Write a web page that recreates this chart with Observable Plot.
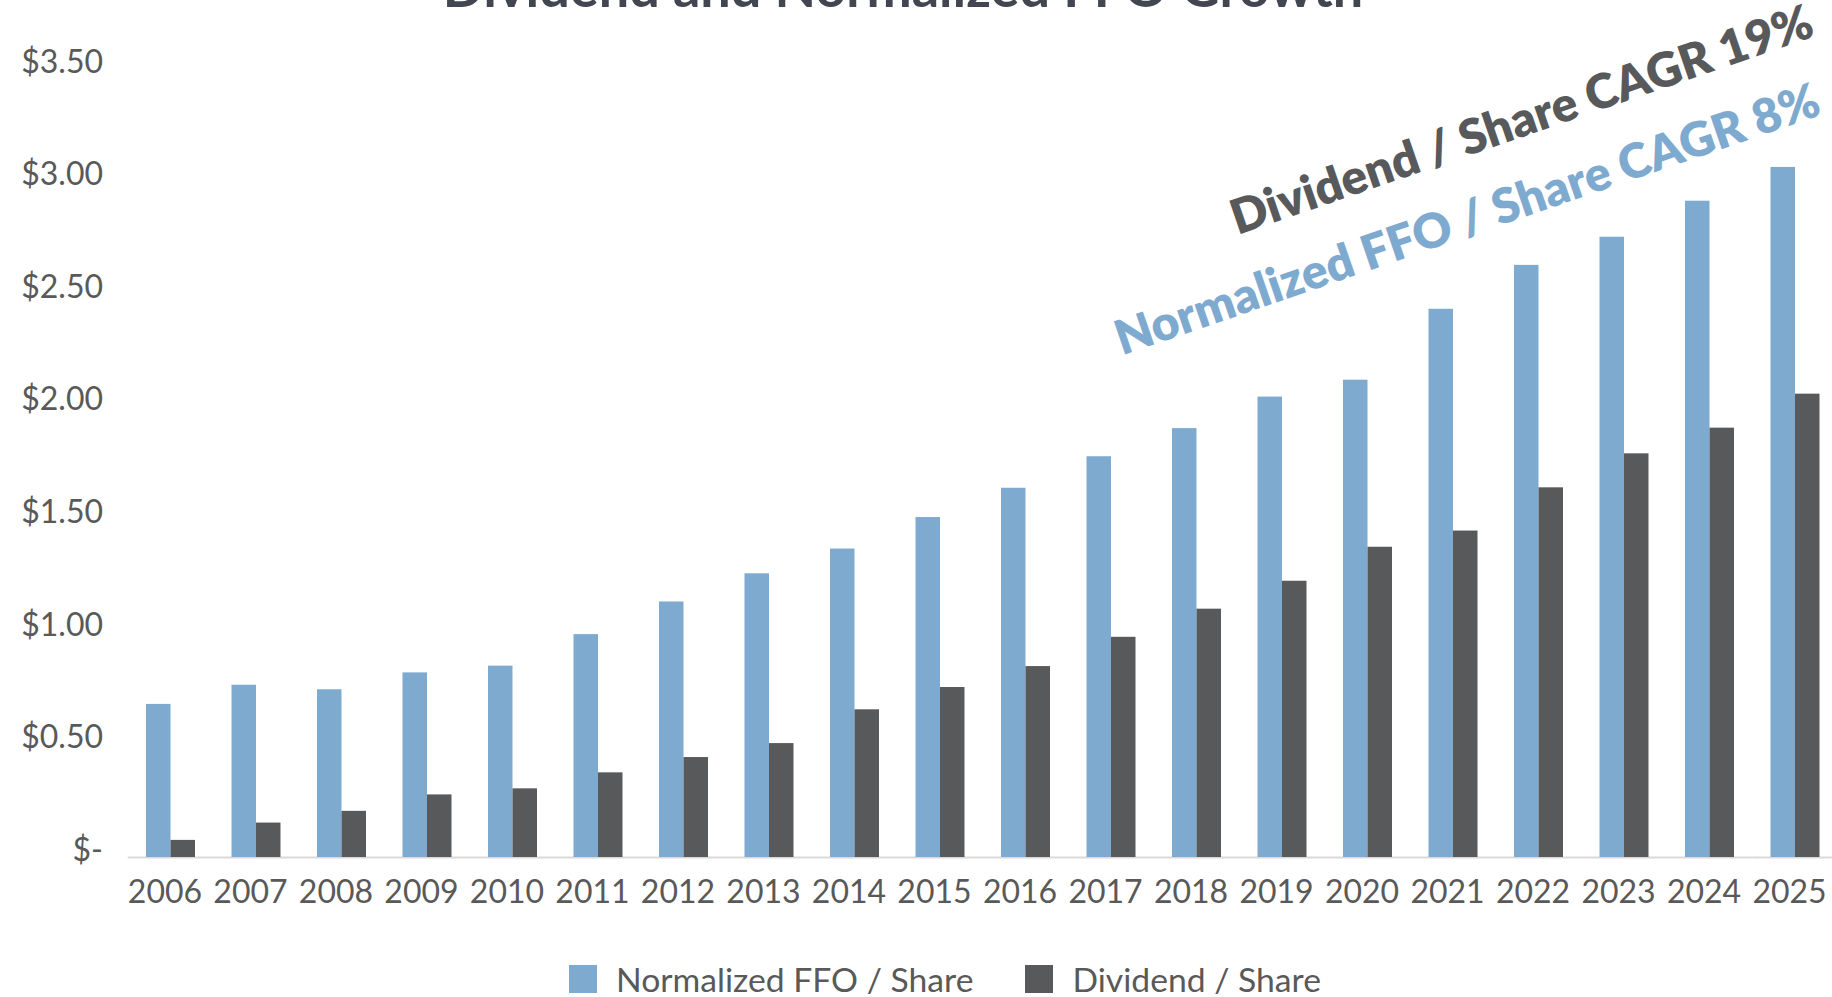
<!DOCTYPE html>
<html>
<head>
<meta charset="utf-8">
<script src="https://cdn.jsdelivr.net/npm/d3@7"></script>
<script src="https://cdn.jsdelivr.net/npm/@observablehq/plot@0.6"></script>
<style>
  html, body { margin: 0; padding: 0; background: #ffffff; overflow: hidden; }
  body { width: 1832px; height: 997px; position: relative; font-family: Lato, "Open Sans", sans-serif; }
  #title { position: absolute; top: -40px; left: 0; width: 1806px; text-align: center;
           font-size: 54px; line-height: 54px; font-weight: 700; color: #414651; z-index: 2; white-space: nowrap; }
  #chart { position: absolute; top: 0; left: 0; }
  #legend { position: absolute; top: 945px; left: 0; width: 1832px; height: 52px; box-sizing: border-box;
            padding-top: 16px; padding-left: 569px; display: flex; align-items: center; }
  .item { display: flex; align-items: center; height: 40px; font-size: 33.7px; color: #595959; }
  .sw { width: 28px; height: 28px; margin-right: 19px; }
</style>
</head>
<body>
<div id="title">Dividend and Normalized FFO Growth</div>
<div id="chart"></div>
<div id="legend"></div>
<script>
// ---- data ----
const years = ["2006","2007","2008","2009","2010","2011","2012","2013","2014","2015",
               "2016","2017","2018","2019","2020","2021","2022","2023","2024","2025"];
const ffoPerShare = [0.68, 0.765, 0.745, 0.82, 0.85, 0.99, 1.135, 1.26, 1.37, 1.51,
                     1.64, 1.78, 1.905, 2.045, 2.12, 2.435, 2.63, 2.755, 2.915, 3.065];
const dividendPerShare = [0.076, 0.153, 0.205, 0.278, 0.305, 0.376, 0.444, 0.506, 0.656, 0.755,
                          0.848, 0.978, 1.103, 1.227, 1.378, 1.45, 1.642, 1.793, 1.907, 2.058];
const seriesNames = ["Normalized FFO / Share", "Dividend / Share"];
const seriesColors = ["#7faacf", "#58595b"];
const yTicks = [0, 0.5, 1, 1.5, 2, 2.5, 3, 3.5];
const yTickLabels = ["$-", "$0.50", "$1.00", "$1.50", "$2.00", "$2.50", "$3.00", "$3.50"];
const annotationLabels = ["Dividend / Share CAGR 19%", "Normalized FFO / Share CAGR 8%"];
const annotationYears = ["2022", "2021"];
const annotationValues = [3.272, 2.83];
const annotationColors = ["#58595b", "#7faacf"];
const annotationDx = [-17, 14];

// ---- table ----
const table = years.flatMap((yr, i) => [
  {year: yr, series: seriesNames[0], value: ffoPerShare[i]},
  {year: yr, series: seriesNames[1], value: dividendPerShare[i]}
]);

const chart = Plot.plot({
  width: 1832,
  height: 945,
  marginTop: 69,
  marginBottom: 88,
  marginLeft: 146,
  marginRight: 12.5,
  style: {fontFamily: "Lato, 'Open Sans', sans-serif", background: "#ffffff", color: "#595959", overflow: "visible"},
  fx: {domain: years, paddingInner: 0.427, paddingOuter: 0, round: false, label: null},
  x: {domain: seriesNames, padding: 0, round: false, axis: null},
  y: {domain: [0, 3.5], axis: null},
  color: {domain: seriesNames, range: seriesColors},
  marks: [
    Plot.axisY(yTicks, {
      anchor: "left", tickSize: 0, tickPadding: 43.5, dy: -7, fontSize: 32, fill: "#595959",
      tickFormat: d => yTickLabels[yTicks.indexOf(d)], label: null
    }),
    Plot.axisFx({anchor: "bottom", tickSize: 0, tickPadding: 23, dx: -6, fontSize: 32, fill: "#595959", label: null}),
    Plot.ruleY([0], {stroke: "#d9d9d9", strokeWidth: 2, insetLeft: -18.25, insetRight: -18.25}),
    Plot.barY(table, {fx: "year", x: "series", y: "value", fill: "series"}),
    ...annotationLabels.map((lab, i) => Plot.text([i], {
      fx: d => annotationYears[d],
      y: d => annotationValues[d],
      text: d => annotationLabels[d],
      fill: annotationColors[i],
      dx: annotationDx[i],
      rotate: -19,
      fontSize: 48,
      fontWeight: 800,
      textAnchor: "middle",
      lineAnchor: "middle"
    }))
  ]
});
document.getElementById("chart").appendChild(chart);

// ---- legend ----
const legend = document.getElementById("legend");
seriesNames.forEach((name, i) => {
  const item = document.createElement("div");
  item.className = "item";
  if (i > 0) item.style.marginLeft = "52px";
  const sw = document.createElement("div");
  sw.className = "sw";
  sw.style.background = seriesColors[i];
  const tx = document.createElement("span");
  tx.textContent = name;
  item.appendChild(sw);
  item.appendChild(tx);
  legend.appendChild(item);
});
</script>
</body>
</html>
